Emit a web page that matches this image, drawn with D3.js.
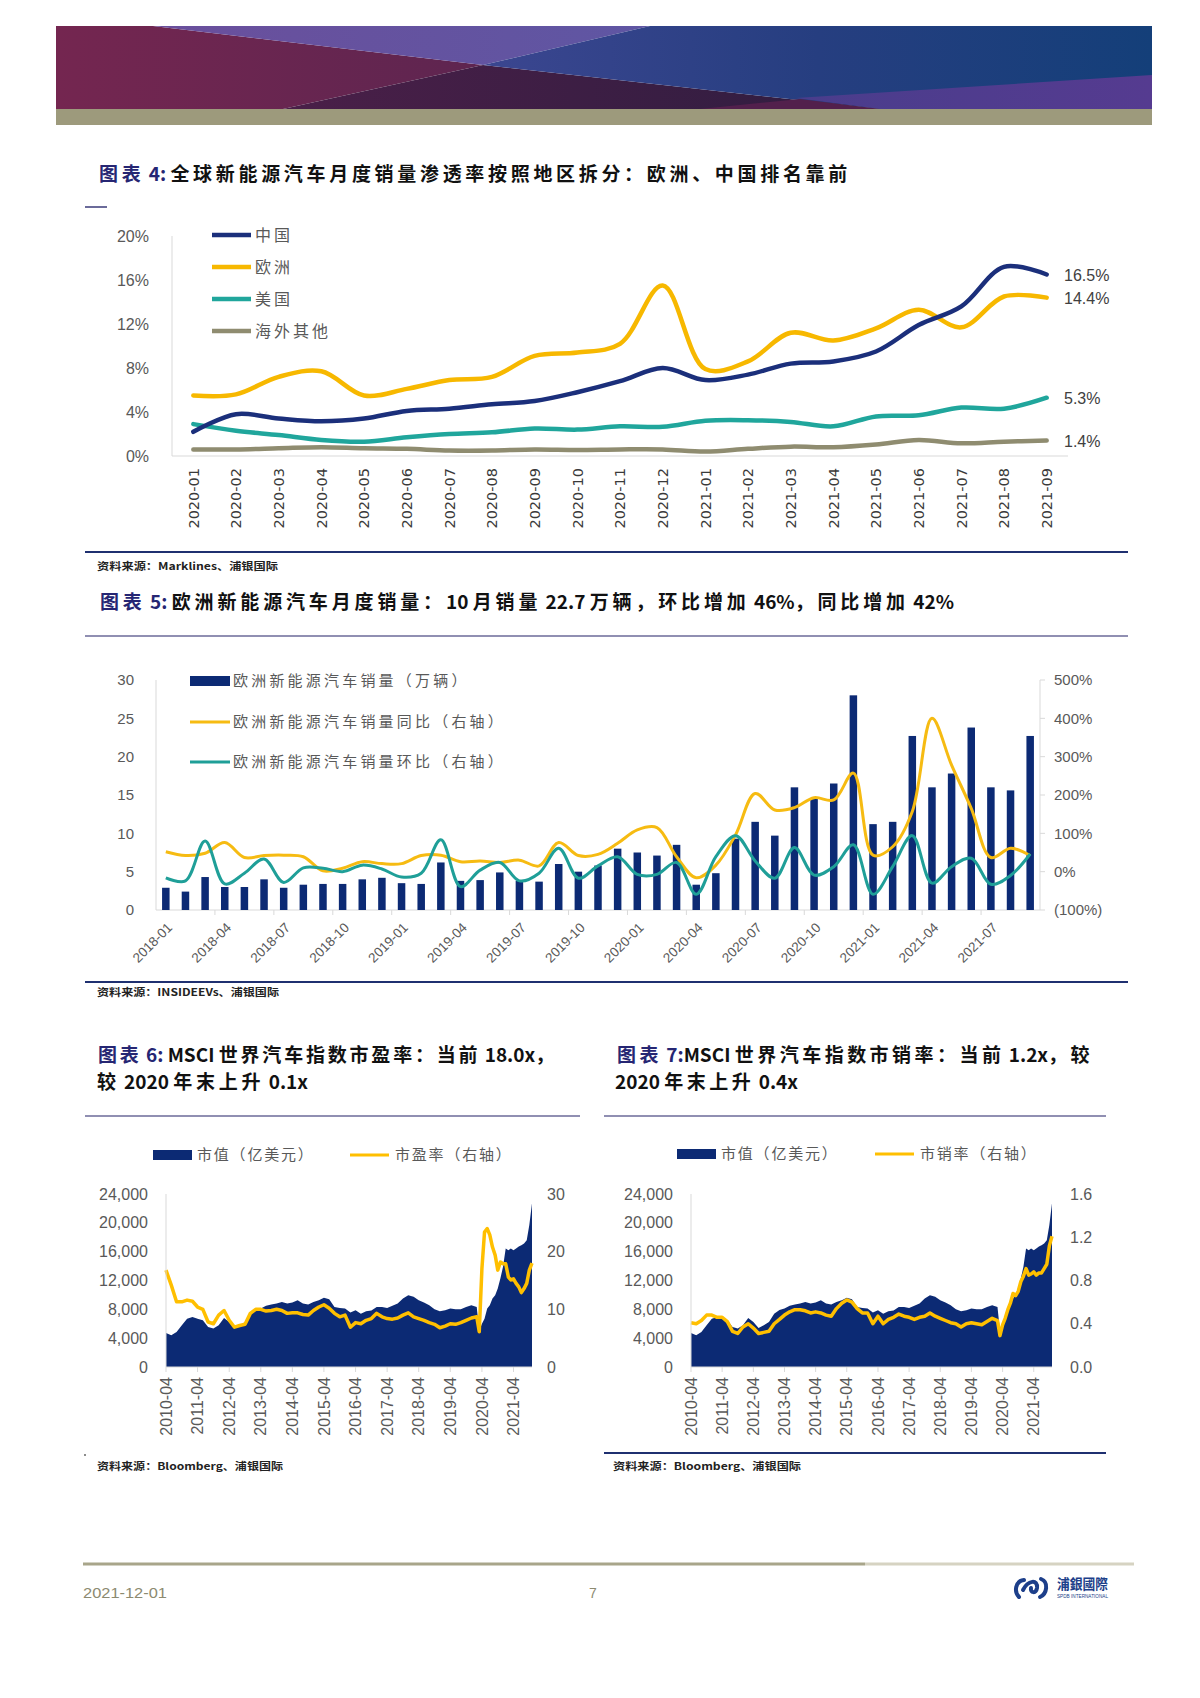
<!DOCTYPE html>
<html><head><meta charset="utf-8">
<script src="https://cdn.jsdelivr.net/npm/d3@7/dist/d3.min.js"></script>
<style>body{margin:0;background:#fff}svg{display:block}</style>
</head><body>
<svg id="page" width="1200" height="1698"></svg>
<script>
// ---------------- DATA ----------------
// Chart 4: NEV penetration by region (%)
const c4Months = ["2020-01","2020-02","2020-03","2020-04","2020-05","2020-06","2020-07","2020-08","2020-09","2020-10","2020-11","2020-12","2021-01","2021-02","2021-03","2021-04","2021-05","2021-06","2021-07","2021-08","2021-09"];
const c4China  = [2.2,3.8,3.4,3.15,3.4,4.1,4.3,4.7,5.0,5.8,6.8,8.0,6.9,7.4,8.4,8.6,9.5,11.9,13.6,17.2,16.5];
const c4Europe = [5.5,5.6,7.2,7.7,5.5,6.1,6.9,7.2,9.1,9.4,10.2,15.5,7.9,8.6,11.2,10.5,11.6,13.3,11.7,14.5,14.4];
const c4US     = [2.9,2.3,1.9,1.45,1.3,1.7,2.0,2.15,2.5,2.4,2.7,2.65,3.2,3.25,3.1,2.7,3.6,3.7,4.4,4.3,5.3];
const c4Other  = [0.6,0.6,0.7,0.8,0.7,0.65,0.5,0.5,0.6,0.55,0.6,0.6,0.4,0.65,0.85,0.8,1.05,1.45,1.15,1.3,1.4];
const c4Names  = ["中国","欧洲","美国","海外其他"];
const c4EndLabels = ["16.5%","14.4%","5.3%","1.4%"];
const c4YTicks = [0,4,8,12,16,20];

// Chart 5: Europe NEV monthly sales (10k units), YoY %, MoM %
const c5Months = ["2018-01","2018-02","2018-03","2018-04","2018-05","2018-06","2018-07","2018-08","2018-09","2018-10","2018-11","2018-12",
"2019-01","2019-02","2019-03","2019-04","2019-05","2019-06","2019-07","2019-08","2019-09","2019-10","2019-11","2019-12",
"2020-01","2020-02","2020-03","2020-04","2020-05","2020-06","2020-07","2020-08","2020-09","2020-10","2020-11","2020-12",
"2021-01","2021-02","2021-03","2021-04","2021-05","2021-06","2021-07","2021-08","2021-09"];
const c5Sales = [2.9,2.4,4.3,3.0,3.0,4.0,2.9,3.3,3.4,3.4,4.0,4.2,3.5,3.4,6.2,3.8,3.9,4.9,3.8,3.7,6.0,5.0,5.8,8.0,7.5,7.1,8.5,3.3,4.8,9.3,11.5,9.7,16.0,14.5,16.5,28.0,11.2,11.5,22.7,16.0,17.8,23.8,16.0,15.6,22.7];
const c5YoY = [52,42,48,76,37,42,43,39,2,9,26,21,21,42,43,26,28,24,30,15,76,42,45,74,109,115,39,-16,17,96,204,161,167,193,187,257,43,65,157,400,278,165,37,61,42];
const c5MoM = [-16,-24,80,-32,-4,33,-28,10,9,0,17,7,-14,-4,83,-39,4,24,-24,-4,61,-17,15,39,-7,-7,24,-59,39,94,28,-17,63,-9,13,70,-59,13,94,-30,13,35,-33,-10,46];
const c5Names = ["欧洲新能源汽车销量（万辆）","欧洲新能源汽车销量同比（右轴）","欧洲新能源汽车销量环比（右轴）"];
const c5LeftTicks = [0,5,10,15,20,25,30];
const c5RightTicks = [-100,0,100,200,300,400,500];

// Charts 6 & 7: MSCI World Auto index
const c67Dates = ["2010-04","2010-06","2010-08","2010-10","2010-12",
"2011-02","2011-04","2011-06","2011-08","2011-10","2011-12",
"2012-02","2012-04","2012-06","2012-08","2012-10","2012-12",
"2013-02","2013-04","2013-06","2013-08","2013-10","2013-12",
"2014-02","2014-04","2014-06","2014-08","2014-10","2014-12",
"2015-02","2015-04","2015-06","2015-08","2015-10","2015-12",
"2016-02","2016-04","2016-06","2016-08","2016-10","2016-12",
"2017-02","2017-04","2017-06","2017-08","2017-10","2017-12",
"2018-02","2018-04","2018-06","2018-08","2018-10","2018-12",
"2019-02","2019-04","2019-06","2019-08","2019-10","2019-12",
"2020-02","2020-03","2020-04","2020-05","2020-06","2020-07","2020-08","2020-09","2020-10","2020-11","2020-12",
"2021-01","2021-02","2021-03","2021-04","2021-05","2021-06","2021-07","2021-08","2021-09","2021-10","2021-11"];
const marketCap = [4700,4400,4860,5800,6700,
6950,6700,6500,5560,5330,5800,
6800,6250,5400,5800,6250,7400,
7900,8100,8500,8660,8800,9030,
8800,8940,9260,8800,8660,9030,
9260,9600,9400,8340,8200,8100,
7550,7880,7400,7740,7830,8340,
8340,8200,8480,8800,9500,9960,
9730,9260,8940,8570,8020,7740,
7880,8100,8020,8020,8340,8570,
8340,5000,6000,6700,8100,8570,9500,9960,10900,12300,13900,
16450,16200,16450,16200,16450,16700,16900,17150,17600,19700,22700];
const peRatio = [16.8,14.2,11.3,11.3,11.6,
11.4,10.4,10.0,7.8,7.5,9.0,
9.8,8.1,6.9,7.2,7.4,9.3,
10.0,10.0,9.7,9.8,10.0,9.8,
9.3,9.4,9.4,9.1,9.0,9.8,
10.4,10.8,10.2,9.3,8.7,9.0,
6.9,7.7,7.5,8.1,8.4,9.3,
8.7,8.4,8.3,8.5,9.0,9.4,
8.7,8.4,8.1,7.7,7.4,6.8,
7.1,7.5,7.4,7.7,8.1,8.5,
8.7,6.1,17.1,23.4,24.0,22.9,20.8,19.4,16.8,18.2,17.9,
17.9,15.6,15.1,15.3,14.5,13.9,12.9,13.6,14.5,16.8,18.0];
const psRatio = [0.41,0.40,0.43,0.48,0.48,
0.46,0.46,0.42,0.33,0.31,0.37,
0.40,0.36,0.31,0.32,0.33,0.40,
0.44,0.48,0.51,0.53,0.53,0.52,
0.50,0.51,0.50,0.48,0.47,0.54,
0.59,0.62,0.60,0.54,0.50,0.50,
0.40,0.47,0.40,0.44,0.46,0.49,
0.47,0.46,0.44,0.46,0.47,0.50,
0.47,0.45,0.43,0.41,0.40,0.37,
0.40,0.41,0.40,0.39,0.42,0.45,
0.43,0.29,0.39,0.45,0.53,0.59,0.68,0.66,0.70,0.79,0.84,
0.91,0.85,0.86,0.88,0.85,0.87,0.87,0.91,0.95,1.12,1.21];
const c67XTicks = ["2010-04","2011-04","2012-04","2013-04","2014-04","2015-04","2016-04","2017-04","2018-04","2019-04","2020-04","2021-04"];
const capTicks = [0,4000,8000,12000,16000,20000,24000];
const peTicks = [0,10,20,30];
const psTicks = [0,0.4,0.8,1.2,1.6];

// ---------------- DRAW ----------------
const svg = d3.select("#page");
const CJK = "'Noto Sans CJK SC','Noto Sans',sans-serif";
const LAT = "'Liberation Sans',Arial,sans-serif";
const NAVY = "#0c2a74", GOLD = "#f7b800", TEAL = "#1f9f98", OLIVE = "#8f8c70";
const AXIS = "#d9d9d9", TICKTXT = "#595959";
svg.append("rect").attr("width",1200).attr("height",1698).attr("fill","#fff");
const defs = svg.append("defs");
function lg(id, stops){
  const g = defs.append("linearGradient").attr("id",id).attr("x1",0).attr("y1",0).attr("x2",1).attr("y2",0);
  stops.forEach(([o,c])=>g.append("stop").attr("offset",o).attr("stop-color",c));
}
// header banner
lg("gLeft",[[0,"#742650"],[1,"#5e2550"]]);
lg("gTop",[[0,"#6a4f9c"],[1,"#5f56a3"]]);
lg("gBot",[[0,"#4a1f48"],[1,"#2f1d40"]]);
lg("gRight",[[0,"#3b4690"],[0.5,"#263e80"],[1,"#143f79"]]);
lg("gWedge",[[0,"#4a3d8c"],[1,"#553b90"]]);
const H = svg.append("g");
const poly = (pts, fill) => H.append("polygon").attr("points", pts.map(p=>p.join(",")).join(" ")).attr("fill", fill);
poly([[56,26],[153,26],[483,65],[283,109],[56,109]],"url(#gLeft)");
poly([[153,26],[650,26],[483,65]],"url(#gTop)");
poly([[283,109],[483,65],[880,109]],"url(#gBot)");
poly([[650,26],[1152,26],[1152,109],[880,109],[483,65]],"url(#gRight)");
poly([[796,98],[1152,75],[1152,109],[880,109]],"url(#gWedge)");
poly([[700,109],[800,99],[880,109]],"#52204c");
H.append("rect").attr("x",56).attr("y",109).attr("width",1096).attr("height",16).attr("fill","#9d9a7c");

// title with CJK-only letter spacing fitted to a target width
const CJKRE = /[\u3000-\u9fff\uff00-\uffef]+|[^\u3000-\u9fff\uff00-\uffef]+/g;
function title(x, y, parts, target){
  const t = svg.append("text").attr("x",x).attr("y",y).attr("font-family",CJK)
    .attr("font-weight",700).attr("font-size",19);
  const cj = [];
  let n = 0;
  parts.forEach(([s,c])=>{
    s.match(CJKRE).forEach(run=>{
      const isC = /[\u3000-\u9fff\uff00-\uffef]/.test(run);
      const ts = t.append("tspan").attr("fill",c).text(run);
      if (isC){ cj.push(ts); n += run.length; }
    });
  });
  const w0 = t.node().getComputedTextLength();
  const ls = n ? Math.max(0,(target - w0)/n) : 0;
  cj.forEach(ts=>ts.attr("letter-spacing",ls));
}
function source(x, y, s, len){
  svg.append("text").attr("x",x).attr("y",y).attr("font-family",CJK).attr("font-weight",700)
    .attr("font-size",10).attr("fill","#222").attr("textLength",len).attr("lengthAdjust","spacingAndGlyphs").text(s);
}
function rule(x1,x2,y,c,w){ svg.append("line").attr("x1",x1).attr("x2",x2).attr("y1",y).attr("y2",y).attr("stroke",c).attr("stroke-width",w); }
const TNAVY = "#262673";

// ---------- Chart 4 ----------
title(99,181,[["图表 4:",TNAVY],[" 全球新能源汽车月度销量渗透率按照地区拆分：欧洲、中国排名靠前","#111"]],752);
rule(85,107,207,"#3a3a78",1.5);
{
  const g = svg.append("g");
  const x = d3.scaleBand().domain(c4Months).range([172,1068]);
  const y = d3.scaleLinear().domain([0,20]).range([456,236]);
  const cx = m => x(m) + x.bandwidth()/2;
  g.append("line").attr("x1",172).attr("x2",172).attr("y1",236).attr("y2",456).attr("stroke",AXIS);
  g.append("line").attr("x1",172).attr("x2",1068).attr("y1",456).attr("y2",456).attr("stroke",AXIS);
  c4YTicks.forEach(v=>g.append("text").attr("x",149).attr("y",y(v)).attr("dy","0.35em").attr("text-anchor","end")
    .attr("font-family",LAT).attr("font-size",16).attr("fill",TICKTXT).text(v+"%"));
  c4Months.forEach(m=>g.append("text").attr("transform",`translate(${cx(m)},${468}) rotate(-90)`)
    .attr("text-anchor","end").attr("dy","0.36em").attr("font-family","'DejaVu Sans',sans-serif")
    .attr("font-size",14.5).attr("fill","#3a3a3a").text(m));
  const series = [c4China,c4Europe,c4US,c4Other];
  const colors = ["#1b2f7b",GOLD,"#20a69c",OLIVE];
  const line = d3.line().x((d,i)=>cx(c4Months[i])).y(d=>y(d)).curve(d3.curveCatmullRom.alpha(0.5));
  [3,2,1,0].forEach(k=>g.append("path").attr("d",line(series[k])).attr("fill","none")
    .attr("stroke",colors[k]).attr("stroke-width",4.5).attr("stroke-linecap","round").attr("stroke-linejoin","round"));
  series.forEach((s,k)=>g.append("text").attr("x",1064).attr("y",y(s[s.length-1])+1).attr("dy","0.35em")
    .attr("font-family",LAT).attr("font-size",16).attr("fill","#404040").text(c4EndLabels[k]));
  c4Names.forEach((n,k)=>{
    const yy = 235 + k*32;
    g.append("line").attr("x1",212).attr("x2",251).attr("y1",yy).attr("y2",yy).attr("stroke",colors[k]).attr("stroke-width",4.5);
    g.append("text").attr("x",255).attr("y",yy).attr("dy","0.36em").attr("font-family",CJK).attr("font-size",16)
      .attr("letter-spacing",3).attr("fill",TICKTXT).text(n);
  });
}
rule(85,1128,552,"#1f3070",2);
source(97,570,"资料来源：Marklines、浦银国际",181);

// ---------- Chart 5 ----------
title(100,609,[["图表 5:",TNAVY],[" 欧洲新能源汽车月度销量：10 月销量 22.7 万辆，环比增加 46%，同比增加 42%","#111"]],854);
rule(85,1128,636,"#6b6a99",1.5);
{
  const g = svg.append("g");
  const x = d3.scaleBand().domain(c5Months).range([156,1040]);
  const yL = d3.scaleLinear().domain([0,30]).range([910,680]);
  const yR = d3.scaleLinear().domain([-100,500]).range([910,680]);
  const cx = m => x(m) + x.bandwidth()/2;
  g.append("line").attr("x1",156).attr("x2",156).attr("y1",680).attr("y2",910).attr("stroke",AXIS);
  g.append("line").attr("x1",1040).attr("x2",1040).attr("y1",680).attr("y2",910).attr("stroke",AXIS);
  g.append("line").attr("x1",156).attr("x2",1040).attr("y1",910).attr("y2",910).attr("stroke",AXIS);
  c5RightTicks.forEach(v=>g.append("line").attr("x1",1040).attr("x2",1045).attr("y1",yR(v)).attr("y2",yR(v)).attr("stroke",AXIS));
  c5Months.forEach((m,i)=>{ if(i%3===0 && i>0) g.append("line").attr("x1",x(m)).attr("x2",x(m)).attr("y1",910).attr("y2",915).attr("stroke",AXIS); });
  c5LeftTicks.forEach(v=>g.append("text").attr("x",134).attr("y",yL(v)).attr("dy","0.35em").attr("text-anchor","end")
    .attr("font-family",LAT).attr("font-size",15).attr("fill",TICKTXT).text(v));
  c5RightTicks.forEach(v=>g.append("text").attr("x",1054).attr("y",yR(v)).attr("dy","0.35em")
    .attr("font-family",LAT).attr("font-size",15).attr("fill",TICKTXT).text(v<0?`(${-v}%)`:`${v}%`));
  c5Months.forEach((m,i)=>{ if(i%3===0) g.append("text").attr("transform",`translate(${cx(m)+4},${925}) rotate(-45)`)
    .attr("text-anchor","end").attr("dy","0.35em").attr("font-family",LAT).attr("font-size",13.5).attr("fill",TICKTXT).text(m); });
  const bw = 7.5;
  g.selectAll("rect.bar").data(c5Sales).enter().append("rect").attr("class","bar")
    .attr("x",(d,i)=>cx(c5Months[i])-bw/2).attr("width",bw).attr("y",d=>yL(d)).attr("height",d=>910-yL(d)).attr("fill",NAVY);
  const line = d3.line().x((d,i)=>cx(c5Months[i])).y(d=>yR(d)).curve(d3.curveCatmullRom.alpha(0.5));
  g.append("path").attr("d",line(c5YoY)).attr("fill","none").attr("stroke","#f6bb12").attr("stroke-width",3);
  g.append("path").attr("d",line(c5MoM)).attr("fill","none").attr("stroke",TEAL).attr("stroke-width",3);
  const ly = [681,722,762];
  g.append("rect").attr("x",190).attr("y",ly[0]-5).attr("width",40).attr("height",10).attr("fill",NAVY);
  g.append("line").attr("x1",190).attr("x2",230).attr("y1",ly[1]).attr("y2",ly[1]).attr("stroke","#f6bb12").attr("stroke-width",3);
  g.append("line").attr("x1",190).attr("x2",230).attr("y1",ly[2]).attr("y2",ly[2]).attr("stroke",TEAL).attr("stroke-width",3);
  c5Names.forEach((n,k)=>g.append("text").attr("x",233).attr("y",ly[k]).attr("dy","0.36em").attr("font-family",CJK)
    .attr("font-size",15).attr("letter-spacing",3.2).attr("fill",TICKTXT).text(n));
}
rule(85,1128,982,"#1f3070",2);
source(97,996,"资料来源：INSIDEEVs、浦银国际",182);

// ---------- Charts 6 & 7 ----------
const parse = d3.timeParse("%Y-%m");
const dates = c67Dates.map(parse);
function ratioChart(o){
  const g = svg.append("g");
  const x = d3.scaleTime().domain([parse("2010-04"),parse("2021-11")]).range([o.x0,o.x1]);
  const yL = d3.scaleLinear().domain([0,24000]).range([1367,1194]);
  const yR = d3.scaleLinear().domain(o.rDomain).range([1367,1194]);
  g.append("path").attr("d",d3.area().x((d,i)=>x(dates[i])).y0(1367).y1(d=>yL(d))(marketCap)).attr("fill",NAVY);
  g.append("path").attr("d",d3.line().x((d,i)=>x(dates[i])).y(d=>yR(d))(o.ratio)).attr("fill","none")
    .attr("stroke","#ffbf00").attr("stroke-width",3.5).attr("stroke-linejoin","round");
  g.append("line").attr("x1",o.x0).attr("x2",o.x0).attr("y1",1194).attr("y2",1367).attr("stroke",AXIS);
  g.append("line").attr("x1",o.x0).attr("x2",o.x1).attr("y1",1367).attr("y2",1367).attr("stroke",AXIS);
  capTicks.forEach(v=>g.append("text").attr("x",o.lx).attr("y",yL(v)).attr("dy","0.35em").attr("text-anchor","end")
    .attr("font-family",LAT).attr("font-size",16).attr("fill",TICKTXT).text(d3.format(",")(v)));
  o.rTicks.forEach(v=>g.append("text").attr("x",o.rx).attr("y",yR(v)).attr("dy","0.35em")
    .attr("font-family",LAT).attr("font-size",16).attr("fill",TICKTXT).text(o.rFmt(v)));
  c67XTicks.forEach(t=>{
    const xx = x(parse(t));
    g.append("line").attr("x1",xx).attr("x2",xx).attr("y1",1367).attr("y2",1372).attr("stroke",AXIS);
    g.append("text").attr("transform",`translate(${xx},${1377}) rotate(-90)`).attr("text-anchor","end").attr("dy","0.35em")
      .attr("font-family",LAT).attr("font-size",16).attr("fill",TICKTXT).text(t);
  });
  // legend
  g.append("rect").attr("x",o.lg[0]).attr("y",o.lgy-5).attr("width",39).attr("height",10).attr("fill",NAVY);
  g.append("text").attr("x",o.lg[0]+44).attr("y",o.lgy).attr("dy","0.36em").attr("font-family",CJK).attr("font-size",15)
    .attr("letter-spacing",1.8).attr("fill",TICKTXT).text("市值（亿美元）");
  g.append("line").attr("x1",o.lg[1]).attr("x2",o.lg[1]+39).attr("y1",o.lgy).attr("y2",o.lgy).attr("stroke","#ffbf00").attr("stroke-width",3);
  g.append("text").attr("x",o.lg[1]+45).attr("y",o.lgy).attr("dy","0.36em").attr("font-family",CJK).attr("font-size",15)
    .attr("letter-spacing",1.8).attr("fill",TICKTXT).text(o.rName);
}
title(98,1062,[["图表 6:",TNAVY],[" MSCI 世界汽车指数市盈率：当前 18.0x，","#111"]],459);
title(97,1089,[["较 2020 年末上升 0.1x","#111"]],211);
title(617,1062,[["图表 7:",TNAVY],["MSCI 世界汽车指数市销率：当前 1.2x，较","#111"]],476);
title(615,1089,[["2020 年末上升 0.4x","#111"]],183);
rule(85,580,1116,"#6b6a99",1.5);
rule(604,1106,1116,"#6b6a99",1.5);
ratioChart({x0:166,x1:532,lx:148,rx:547,rDomain:[0,30],rTicks:peTicks,rFmt:v=>String(v),ratio:peRatio,lg:[153,350],lgy:1155,rName:"市盈率（右轴）"});
ratioChart({x0:691,x1:1052,lx:673,rx:1070,rDomain:[0,1.6],rTicks:psTicks,rFmt:d3.format(".1f"),ratio:psRatio,lg:[677,875],lgy:1154,rName:"市销率（右轴）"});
rule(604,1106,1453,"#1f3070",2);
svg.append("circle").attr("cx",85).attr("cy",1455).attr("r",1).attr("fill","#666");
source(97,1470,"资料来源：Bloomberg、浦银国际",186);
source(613,1470,"资料来源：Bloomberg、浦银国际",188);

// ---------- Footer ----------
rule(83,865,1564,"#a8a58a",3);
rule(865,1134,1564,"#d6d3c2",3);
svg.append("text").attr("x",83).attr("y",1598).attr("font-family","'Liberation Sans Narrow','Liberation Sans',sans-serif")
  .attr("font-size",14).attr("fill","#8c8a70").attr("textLength",84).attr("lengthAdjust","spacingAndGlyphs").text("2021-12-01");
svg.append("text").attr("x",589).attr("y",1598).attr("font-family",LAT).attr("font-size",14).attr("fill","#8c8a70").text("7");
const L = svg.append("g").attr("fill","none").attr("stroke","#1d3f8a").attr("stroke-width",4).attr("stroke-linecap","round");
L.append("path").attr("d","M1024,1580 C1015,1581 1014,1592 1019,1597");
L.append("path").attr("d","M1023,1590 C1028,1580 1038,1579 1037,1588 C1036,1594 1030,1593 1031,1588");
L.append("path").attr("d","M1041,1579 C1049,1582 1047,1594 1040,1597");
svg.append("text").attr("x",1057).attr("y",1589).attr("font-family",CJK).attr("font-weight",700).attr("font-size",14)
  .attr("fill","#1d3f8a").attr("textLength",51).attr("lengthAdjust","spacingAndGlyphs").text("浦銀國際");
svg.append("text").attr("x",1057).attr("y",1598).attr("font-family",LAT).attr("font-size",4.5)
  .attr("fill","#1d3f8a").attr("textLength",51).attr("lengthAdjust","spacingAndGlyphs").text("SPDB INTERNATIONAL");
</script>
</body></html>
